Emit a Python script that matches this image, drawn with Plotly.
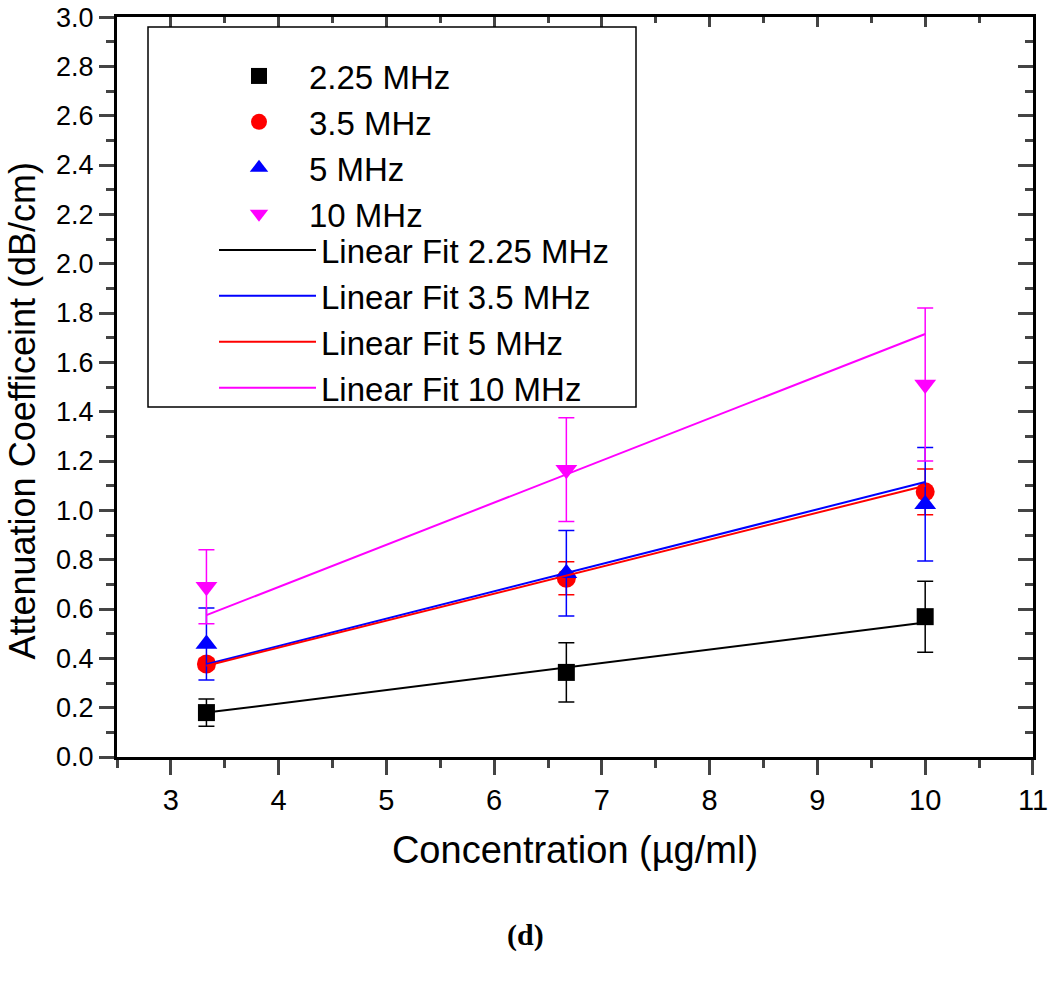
import plotly.graph_objects as go

# ---------------- data ----------------
conc = [3.33, 6.67, 10.0]

att_225 = [0.18, 0.343, 0.569]
err_225 = [0.055, 0.12, 0.144]
att_35 = [0.377, 0.725, 1.075]
err_35 = [0.02, 0.067, 0.093]
att_5 = [0.458, 0.745, 1.025]
err_5 = [0.146, 0.173, 0.23]
att_10 = [0.69, 1.165, 1.51]
err_10 = [0.15, 0.21, 0.31]

fit_225 = [0.18, 0.362, 0.545]
fit_35 = [0.376, 0.745, 1.115]
fit_5 = [0.370, 0.735, 1.100]
fit_10 = [0.575, 1.145, 1.715]

x_ticks = [3, 4, 5, 6, 7, 8, 9, 10, 11]
y_ticks = [0.0, 0.2, 0.4, 0.6, 0.8, 1.0, 1.2, 1.4, 1.6, 1.8, 2.0, 2.2, 2.4, 2.6, 2.8, 3.0]
y_tick_text = ["%.1f" % v for v in y_ticks]
x_tick_text = [str(v) for v in x_ticks]

FONT = "Liberation Sans, Arial, sans-serif"
BLACK, RED, BLUE, MAG = "#000000", "#FF0000", "#0000FF", "#FF00FF"

# plot-area geometry (pixels) used to place legend/box/annotations
W, H = 1050, 1002
ML, MR, MT, MB = 117, 17, 17, 245
PW, PH = W - ML - MR, H - MT - MB

def px_x(sx):
    return (sx - ML) / PW

def px_y(sy):
    return (MT + PH - sy) / PH

fig = go.Figure()

def data_trace(y, err, name, color, symbol, size):
    return go.Scatter(
        x=conc, y=y, name=name, mode="markers", legend="legend",
        marker=dict(color=color, symbol=symbol, size=size, line=dict(width=0)),
        error_y=dict(type="data", array=err, visible=True, color=color,
                     thickness=1.5, width=8),
    )

fig.add_trace(data_trace(att_225, err_225, "2.25 MHz", BLACK, "square", 17))
fig.add_trace(data_trace(att_35, err_35, "3.5 MHz", RED, "circle", 19))
fig.add_trace(data_trace(att_5, err_5, "5 MHz", BLUE, "triangle-up", 19))
fig.add_trace(data_trace(att_10, err_10, "10 MHz", MAG, "triangle-down", 19))

def fit_trace(y, name, color):
    return go.Scatter(x=conc, y=y, name=name, mode="lines", legend="legend2",
                      line=dict(color=color, width=2))

fig.add_trace(fit_trace(fit_225, "Linear Fit 2.25 MHz", BLACK))
fig.add_trace(fit_trace(fit_35, "Linear Fit 3.5 MHz", BLUE))
fig.add_trace(fit_trace(fit_5, "Linear Fit 5 MHz", RED))
fig.add_trace(fit_trace(fit_10, "Linear Fit 10 MHz", MAG))

# empty trace to carry the top/right mirror axes (inward ticks)
fig.add_trace(go.Scatter(x=[], y=[], xaxis="x2", yaxis="y2", showlegend=False,
                         hoverinfo="skip"))

XR = [2.5, 11.0005]
YR = [0, 3.0002]

fig.update_layout(
    width=W, height=H,
    paper_bgcolor="white", plot_bgcolor="white",
    margin=dict(l=ML, r=MR, t=MT, b=MB),
    font=dict(family=FONT, color="black"),
    xaxis=dict(
        range=XR, tickvals=x_ticks, ticktext=x_tick_text, ticks="outside", ticklen=15,
        tickwidth=2.5, automargin=False, ticklabeloverflow="allow",
        showline=True, linewidth=3, linecolor="black", showgrid=False, zeroline=False,
        tickfont=dict(size=29, family=FONT),
        minor=dict(dtick=0.5, tick0=2.5, ticks="outside", ticklen=8, tickwidth=2.5,
                   showgrid=False),
        title=dict(text="Concentration (\u00b5g/ml)", font=dict(size=38, family=FONT),
                   standoff=22),
    ),
    yaxis=dict(
        range=YR, tickvals=y_ticks, ticktext=y_tick_text, ticks="outside", ticklen=15,
        tickwidth=2.5, showline=True, linewidth=3, linecolor="black", showgrid=False,
        zeroline=False, tickfont=dict(size=27, family=FONT), automargin=False,
        ticklabeloverflow="allow",
        minor=dict(dtick=0.1, ticks="outside", ticklen=8, tickwidth=2.5, showgrid=False),
    ),
    xaxis2=dict(
        range=XR, overlaying="x", side="top", anchor="y2", tickvals=x_ticks,
        ticks="inside", ticklen=10, tickwidth=2.5, showticklabels=False, automargin=False,
        showline=True, linewidth=3, linecolor="black", showgrid=False, zeroline=False,
        minor=dict(dtick=0.5, tick0=2.5, ticks="inside", ticklen=6, tickwidth=2.5,
                   showgrid=False),
    ),
    yaxis2=dict(
        range=YR, overlaying="y", side="right", anchor="x2", tickvals=y_ticks,
        ticks="inside", ticklen=15, tickwidth=2.5, showticklabels=False, automargin=False,
        showline=True, linewidth=3, linecolor="black", showgrid=False, zeroline=False,
        minor=dict(dtick=0.1, ticks="inside", ticklen=8, tickwidth=2.5, showgrid=False),
    ),
    legend=dict(
        x=px_x(209), y=px_y(48), xanchor="left", yanchor="top",
        bgcolor="rgba(0,0,0,0)", borderwidth=0, itemwidth=90,
        font=dict(size=33, family=FONT), tracegroupgap=0,
    ),
    legend2=dict(
        x=px_x(214), y=px_y(222), xanchor="left", yanchor="top",
        bgcolor="rgba(0,0,0,0)", borderwidth=0, itemwidth=97,
        font=dict(size=33, family=FONT), tracegroupgap=0,
    ),
    shapes=[dict(type="rect", xref="paper", yref="paper",
                 x0=px_x(148), x1=px_x(636), y0=px_y(407), y1=px_y(27),
                 line=dict(color="black", width=1.5), fillcolor="rgba(0,0,0,0)")],
    annotations=[
        dict(text="Attenuation Coefficeint (dB/cm)", xref="paper", yref="paper",
             x=px_x(22), y=px_y(410.5), xanchor="center", yanchor="middle",
             textangle=-90, showarrow=False, font=dict(size=36, family=FONT)),
        dict(text="<b>(d)</b>", xref="paper", yref="paper",
             x=px_x(525), y=px_y(935), yanchor="middle", showarrow=False,
             font=dict(size=30, family="Liberation Serif, Times New Roman, serif")),
    ],
    showlegend=True,
)

fig.write_html("out.html", config={"displayModeBar": False},
               post_script="document.body.style.margin='0px';")
